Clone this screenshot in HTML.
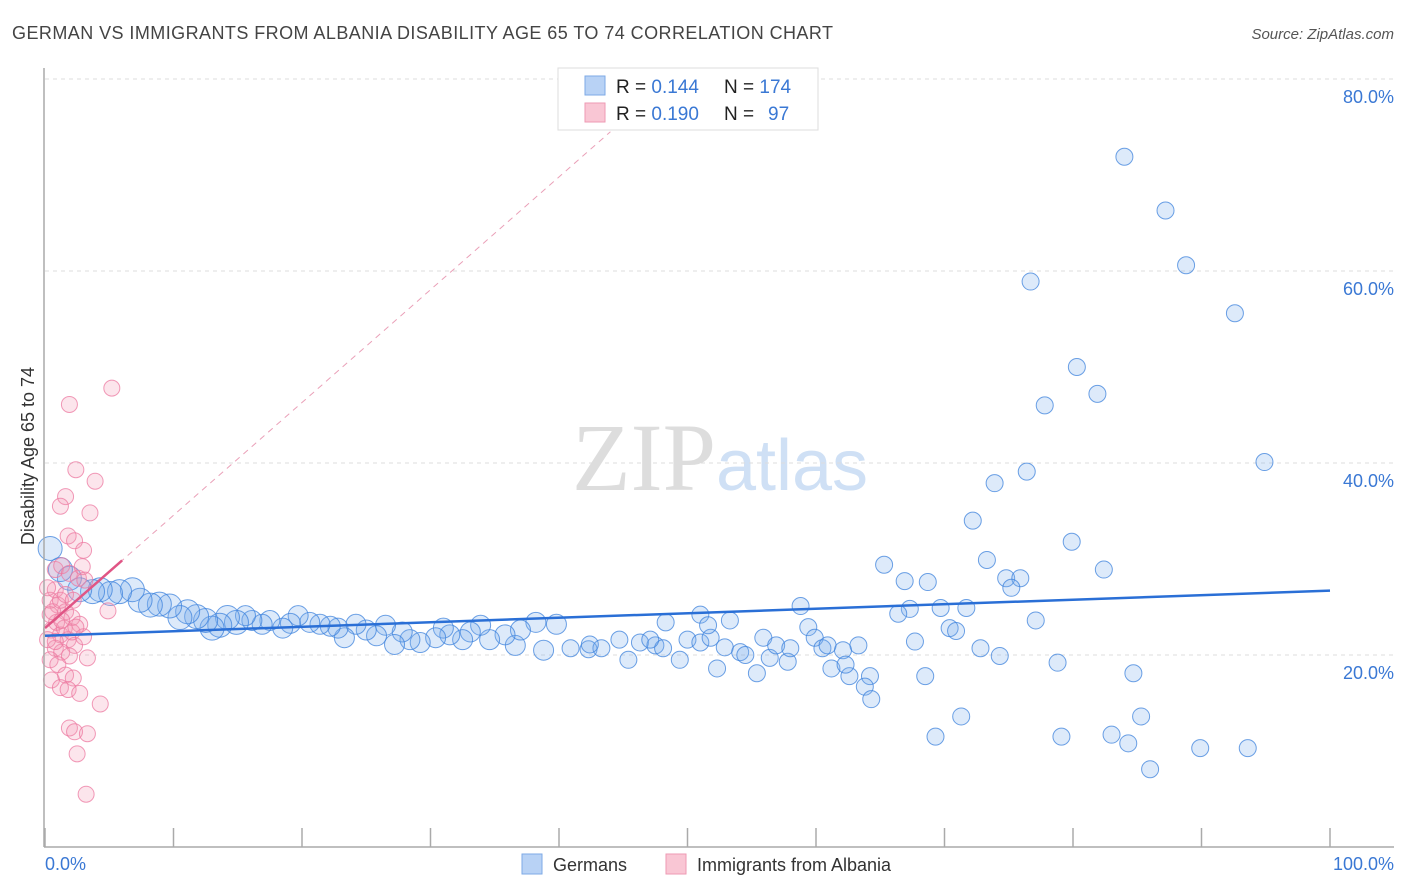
<!DOCTYPE html>
<html><head><meta charset="utf-8"><style>
body{margin:0;background:#fff;font-family:"Liberation Sans",sans-serif;}
svg{display:block}
</style></head><body>
<svg id="chart" width="1406" height="892" xmlns="http://www.w3.org/2000/svg">
<text x="12" y="39" font-size="18" fill="#444" textLength="821" lengthAdjust="spacing">GERMAN VS IMMIGRANTS FROM ALBANIA DISABILITY AGE 65 TO 74 CORRELATION CHART</text>
<text x="1394" y="39" font-size="15" fill="#555" text-anchor="end" font-style="italic">Source: ZipAtlas.com</text>
<text x="720" y="490" font-size="96" text-anchor="middle" fill="#ddd" font-family="Liberation Serif,serif">ZIP<tspan fill="#cfe0f5" font-family="Liberation Sans,sans-serif" font-size="72">atlas</tspan></text>
<text transform="translate(34,456) rotate(-90)" font-size="18" fill="#333" text-anchor="middle">Disability Age 65 to 74</text>
<g id="grid"></g><g id="pts"></g><g id="lines"></g>
<line x1="44" y1="68" x2="44" y2="847" stroke="#aaa" stroke-width="1.5"/>
<line x1="44" y1="847" x2="1394" y2="847" stroke="#aaa" stroke-width="1.5"/>
<text x="45" y="870" font-size="18" fill="#3a78d4">0.0%</text>
<text x="1394" y="870" font-size="18" fill="#3a78d4" text-anchor="end">100.0%</text>
<g>
<rect x="558" y="68" width="260" height="62" fill="#fff" stroke="#ddd"/>
<rect x="585" y="76" width="20" height="19" fill="#b8d2f5" stroke="#7eaae6"/>
<rect x="585" y="103" width="20" height="19" fill="#f9c6d4" stroke="#ee9ab3"/>
<text x="616" y="93" font-size="19" fill="#222">R = <tspan fill="#3a78d4">0.144</tspan><tspan x="724">N = </tspan><tspan fill="#3a78d4">174</tspan></text>
<text x="616" y="120" font-size="19" fill="#222">R = <tspan fill="#3a78d4">0.190</tspan><tspan x="724">N = </tspan><tspan fill="#3a78d4" x="768">97</tspan></text>
</g>
<g>
<rect x="522" y="854" width="20" height="20" fill="#b8d2f5" stroke="#7eaae6"/>
<text x="553" y="871" font-size="18" fill="#333">Germans</text>
<rect x="666" y="854" width="20" height="20" fill="#f9c6d4" stroke="#ee9ab3"/>
<text x="697" y="871" font-size="18" fill="#333">Immigrants from Albania</text>
</g>
</svg>
<script>
const yTicks=[20,40,60,80];
const xTicks=[0,10,20,30,40,50,60,70,80,90,100];
const blueX=[84.0,87.2,88.8,76.7,92.6,80.3,81.9,77.8,94.9,76.4,73.9,72.2,79.9,73.3,65.3,82.4,66.9,68.7,74.8,75.9,75.2,58.8,67.3,66.4,69.7,71.7,77.1,51.0,53.3,48.3,70.4,70.9,67.7,63.3,72.8,74.3,78.8,84.7,68.5,64.2,61.2,62.6,63.8,64.3,71.3,85.3,69.3,79.1,83.0,84.3,89.9,93.6,86.0,
36.6,38.8,40.9,42.3,43.3,44.7,45.4,46.3,47.5,48.1,49.4,50.0,51.0,51.8,52.3,52.9,54.1,54.5,55.4,55.9,56.4,56.9,57.8,58.0,59.4,59.9,60.5,60.9,62.1,62.3,51.6,47.1,42.4,39.8,38.2,37.0,35.8,34.6,33.9,33.1,32.5,31.5,31.0,30.4,29.2,28.4,27.8,27.2,26.5,25.8,25.0,24.2,23.3,22.8,22.2,21.4,20.6,19.7,19.1,18.5,17.5,16.9,16.1,15.6,14.9,14.2,13.6,13.0,12.5,11.8,11.1,10.5,9.7,8.9,8.2,7.4,6.8,5.8,5.1,4.3,3.7,2.7,1.9,1.2,0.4];
const blueY=[71.9,66.3,60.6,58.9,55.6,50.0,47.2,46.0,40.1,39.1,37.9,34.0,31.8,29.9,29.4,28.9,27.7,27.6,28.0,28.0,27.0,25.1,24.8,24.3,24.9,24.9,23.6,24.2,23.6,23.4,22.8,22.5,21.4,21.0,20.7,19.9,19.2,18.1,17.8,17.8,18.6,17.8,16.7,15.4,13.6,13.6,11.5,11.5,11.7,10.8,10.3,10.3,8.1,
21.0,20.5,20.7,20.6,20.7,21.6,19.5,21.3,21.0,20.7,19.5,21.6,21.3,21.8,18.6,20.8,20.3,20.0,18.1,21.8,19.7,21.0,19.3,20.7,22.9,21.8,20.7,21.0,20.5,19.0,23.1,21.6,21.1,23.2,23.4,22.6,22.1,21.6,23.1,22.4,21.6,22.1,22.8,21.8,21.3,21.6,22.4,21.1,23.1,22.0,22.6,23.2,21.8,22.8,23.0,23.2,23.4,24.1,23.3,22.8,23.6,23.2,23.6,24.1,23.4,23.9,23.1,22.8,23.6,24.0,24.5,23.9,25.1,25.3,25.2,25.7,26.8,26.6,26.4,26.8,26.6,26.8,28.0,28.9,31.1];
const pinkX=[5.2,1.9,2.4,3.9,1.6,3.5,1.2,1.8,2.3,3.0,0.8,1.3,1.9,2.6,4.9,0.8,0.4,1.0,1.6,2.1,2.7,0.5,1.2,1.8,2.3,0.8,1.3,1.9,3.3,0.4,1.0,1.6,2.2,0.5,1.2,1.8,2.7,4.3,1.9,2.3,3.3,2.5,3.2,0.4,0.9,1.5,2.1,0.2,0.8,1.3,3.0,2.4,0.6,1.2,1.6,2.2,0.2,2.9,3.1];
const pinkY=[47.8,46.1,39.3,38.1,36.5,34.8,35.5,32.4,31.9,30.9,28.9,29.3,28.5,28.0,24.6,26.8,25.7,25.2,24.5,23.9,23.2,22.6,22.1,21.6,21.0,20.7,20.3,19.9,19.7,19.5,19.0,17.9,17.6,17.4,16.6,16.4,16.0,14.9,12.4,12.0,11.8,9.7,5.5,24.2,23.4,22.8,22.4,21.6,21.4,23.6,21.9,22.9,24.5,25.7,26.3,25.7,27.0,29.2,27.8];
const blueTrend=[22.0,26.7];
const pinkTrend=[22.8,74.5];
const NS='http://www.w3.org/2000/svg';
const X=v=>45+v*12.85, Y=v=>847-v*9.6;
function mk(tag,attrs,parent){const e=document.createElementNS(NS,tag);for(const k in attrs)e.setAttribute(k,attrs[k]);parent.appendChild(e);return e;}
const grid=document.getElementById('grid');
yTicks.forEach(t=>{
 const l=mk('line',{x1:45,x2:1394,y1:Y(t),y2:Y(t),stroke:'#ddd','stroke-dasharray':'4,4'},grid);
 
 
 const tx=mk('text',{x:1394,y:Y(t)+24,'font-size':18,fill:'#3a78d4','text-anchor':'end'},grid);
 tx.textContent=t.toFixed(1)+'%';
 
 
});
xTicks.forEach(t=>{
 const l=mk('line',{x1:X(t),x2:X(t),y1:828,y2:847,stroke:'#aaa','stroke-width':1.5},grid);
 
 
});
const pts=document.getElementById('pts');
blueX.forEach((x,i)=>{
 const r=x<15?12:(x<40?10:8.5);
 const c=mk('circle',{cx:X(x),cy:Y(blueY[i]),r:r,fill:'rgba(120,170,235,0.25)',stroke:'rgba(60,130,220,0.75)','stroke-width':1},pts);
 
 
});
pinkX.forEach((x,i)=>{
 const c=mk('circle',{cx:X(x),cy:Y(pinkY[i]),r:8,fill:'rgba(245,150,180,0.25)',stroke:'rgba(236,120,160,0.75)','stroke-width':1},pts);
 
 
});
const lines=document.getElementById('lines');
const bl=mk('line',{x1:X(0),y1:Y(blueTrend[0]),x2:X(100),y2:Y(blueTrend[1]),stroke:'#2a6fd6','stroke-width':2.5},lines);


const slope=(pinkTrend[1]-pinkTrend[0])/44;
const pd=mk('line',{x1:X(0),y1:Y(pinkTrend[0]),x2:X(44),y2:Y(pinkTrend[1]),stroke:'#eaa0b8','stroke-width':1,'stroke-dasharray':'6,5'},lines);


const ps=mk('line',{x1:X(0),y1:Y(pinkTrend[0]),x2:X(6),y2:Y(pinkTrend[0]+slope*6),stroke:'#e05585','stroke-width':2.5},lines);


</script>
</body></html>
